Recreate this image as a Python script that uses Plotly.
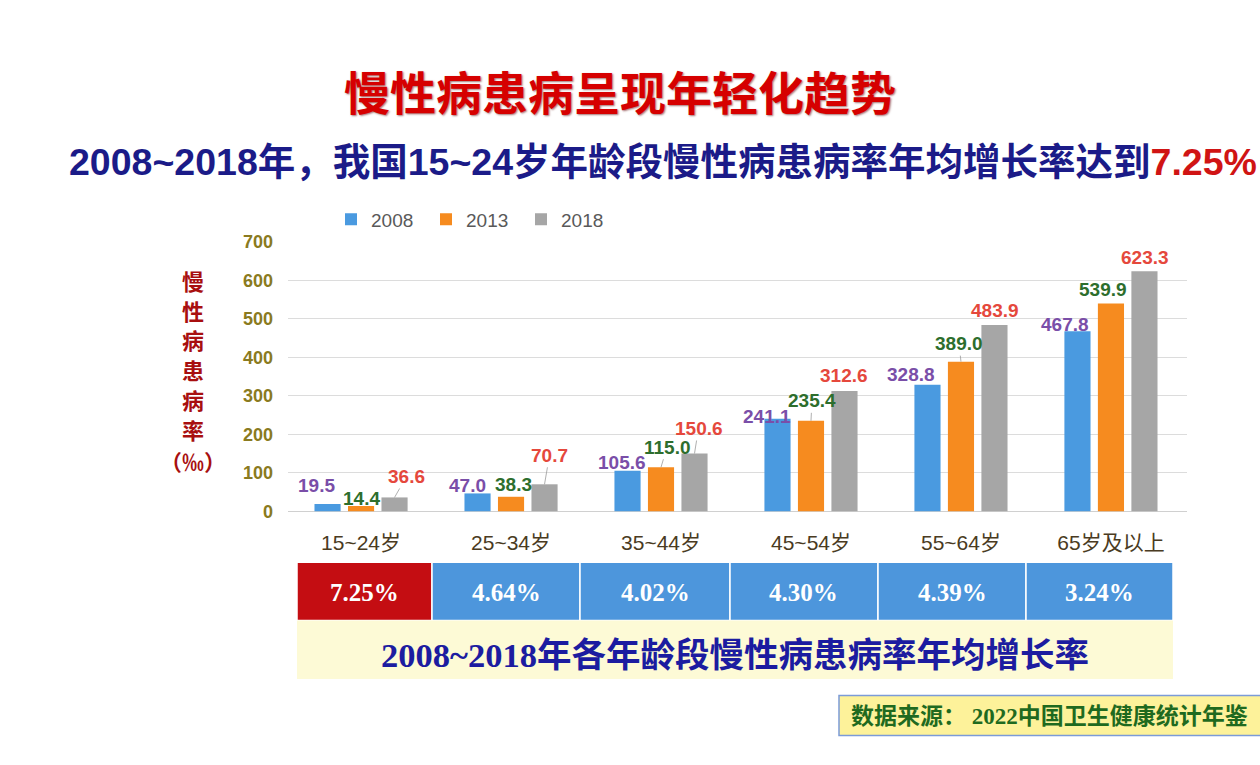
import plotly.graph_objects as go

# ---------------- data ----------------
categories = ["15~24岁", "25~34岁", "35~44岁", "45~54岁", "55~64岁", "65岁及以上"]
years = ["2008", "2013", "2018"]
rate_2008 = [19.5, 47.0, 105.6, 241.1, 328.8, 467.8]
rate_2013 = [14.4, 38.3, 115.0, 235.4, 389.0, 539.9]
rate_2018 = [36.6, 70.7, 150.6, 312.6, 483.9, 623.3]
growth_rates = ["7.25%", "4.64%", "4.02%", "4.30%", "4.39%", "3.24%"]
y_ticks = [0, 100, 200, 300, 400, 500, 600, 700]

title_text = "慢性病患病呈现年轻化趋势"
subtitle_text = "2008~2018年，我国15~24岁年龄段慢性病患病率年均增长率达到"
subtitle_highlight = "7.25%"
y_title_chars = ["慢", "性", "病", "患", "病", "率", "（‰）"]
table_title = "2008~2018年各年龄段慢性病患病率年均增长率"
source_text = "数据来源： 2022中国卫生健康统计年鉴"

# ---------------- style ----------------
W, H = 1260, 765
SANS = "Liberation Sans, Noto Sans CJK SC, sans-serif"
SERIF = "Liberation Serif, Noto Sans CJK SC, serif"
bar_colors = ["#4a9ae0", "#f68b1f", "#a6a6a6"]
label_colors = ["#7a4ea8", "#2d6e2d", "#e5483c"]


def px(x):
    return x / W


def py(y):
    return 1 - y / H


# label offsets in pixels (dx, dy, leader line)
label_offsets = [
    [(-11, -19, False), (-10, -8, False), (-6, -8, False), (-11, -2, False), (-16, -10, False), (-12, -7, False)],
    [(0, -7, False), (2, -12, False), (6, -20, True), (1, -20, True), (-2, -18, True), (-8, -14, False)],
    [(12, -21, True), (5, -29, True), (4, -25, True), (0, -16, False), (1, -15, False), (1, -14, False)],
]

x_idx = list(range(len(categories)))
series = [rate_2008, rate_2013, rate_2018]

fig = go.Figure()
for k, (yr, vals) in enumerate(zip(years, series)):
    fig.add_trace(go.Bar(
        x=x_idx, y=vals, name=yr,
        marker=dict(color=bar_colors[k], line=dict(width=0)),
        hoverinfo="skip",
    ))

bargap = 0.33
slot = (1 - bargap) / 3

annotations = []
for k, vals in enumerate(series):
    for i, v in enumerate(vals):
        dx, dy, leader = label_offsets[k][i]
        annotations.append(dict(
            x=i + (k - 1) * slot, y=v, xref="x", yref="y",
            text=f"<b>{v:.1f}</b>", showarrow=True,
            ax=dx, ay=dy, axref="pixel", ayref="pixel",
            arrowhead=0, arrowwidth=0.8, standoff=0, startstandoff=0,
            arrowcolor="#9a9a9a" if leader else "rgba(0,0,0,0)",
            font=dict(family=SANS, size=19, color=label_colors[k]),
        ))

# title and subtitle
annotations.append(dict(
    x=px(620), y=py(82), xref="paper", yref="paper", showarrow=False,
    text=f"<b>{title_text}</b>", xanchor="center", yanchor="middle",
    font=dict(family="Noto Sans CJK SC", size=46, color="#d60000",
              shadow="1px 1px 2px rgba(90,0,0,0.55)"),
))
annotations.append(dict(
    x=px(663), y=py(156), xref="paper", yref="paper", showarrow=False,
    text=f"<b>{subtitle_text}<span style='color:#d01414'>{subtitle_highlight}</span></b>",
    xanchor="center", yanchor="middle",
    font=dict(family=SANS, size=37.5, color="#1b1b88"),
))

# y axis title (vertical characters)
for k, ch in enumerate(y_title_chars):
    yy = 277 + 30.6 * k if k < len(y_title_chars) - 1 else 277 + 30.6 * (k - 1) + 32
    annotations.append(dict(
        x=px(193), y=py(yy), xref="paper", yref="paper", showarrow=False,
        text=f"<b>{ch}</b>", xanchor="center", yanchor="middle",
        font=dict(family="Noto Sans CJK SC", size=22, color="#a80f0f"),
    ))

shapes = []
# growth-rate table row
cell_edges = [297, 432, 580, 730, 878, 1026, 1173]
row_top, row_bot = 567, 627
max_idx = max(range(len(growth_rates)), key=lambda j: float(growth_rates[j].rstrip("%")))
for j, g in enumerate(growth_rates):
    shapes.append(dict(
        type="rect", xref="paper", yref="paper",
        x0=px(cell_edges[j]), x1=px(cell_edges[j + 1]), y0=py(row_bot), y1=py(row_top),
        fillcolor="#c40d12" if j == max_idx else "#4d96dc",
        line=dict(color="white", width=1.5), layer="below",
    ))
    annotations.append(dict(
        x=px((cell_edges[j] + cell_edges[j + 1]) / 2), y=py(598), xref="paper", yref="paper",
        showarrow=False, text=f"<b>{g}</b>", xanchor="center", yanchor="middle",
        font=dict(family=SERIF, size=25, color="white"),
    ))

# yellow table title band
shapes.append(dict(
    type="rect", xref="paper", yref="paper",
    x0=px(297), x1=px(1173), y0=py(687), y1=py(627),
    fillcolor="#fdfad6", line=dict(width=0), layer="below",
))
annotations.append(dict(
    x=px(735), y=py(662), xref="paper", yref="paper", showarrow=False,
    text=f"<b>{table_title}</b>", xanchor="center", yanchor="middle",
    font=dict(family=SERIF, size=34.5, color="#1c1ca0"),
))

# source box
shapes.append(dict(
    type="rect", xref="paper", yref="paper",
    x0=px(839), x1=px(1262), y0=py(745), y1=py(704),
    fillcolor="#fdf29a", line=dict(color="#7b9bd8", width=1.5), layer="below",
))
annotations.append(dict(
    x=px(1049), y=py(725), xref="paper", yref="paper", showarrow=False,
    text=f"<b>{source_text}</b>", xanchor="center", yanchor="middle",
    font=dict(family=SERIF, size=23, color="#1f6a1f"),
))

fig.update_layout(
    width=W, height=H,
    margin=dict(l=0, r=0, t=0, b=0),
    paper_bgcolor="white", plot_bgcolor="white",
    barmode="group", bargap=bargap, bargroupgap=0.22,
    showlegend=True,
    legend=dict(
        orientation="h", x=px(331), xanchor="left", y=py(215), yanchor="middle",
        font=dict(family=SANS, size=19, color="#595959"),
        entrywidth=50, entrywidthmode="pixels",
        bgcolor="rgba(0,0,0,0)", itemclick=False, itemdoubleclick=False,
    ),
    xaxis=dict(
        domain=[px(288), px(1187)], range=[-0.487, 5.507],
        tickmode="array", tickvals=x_idx, ticktext=categories,
        showgrid=False, zeroline=False, showline=False, ticks="",
        tickfont=dict(family=SANS, size=21, color="#4a3b22"),
        ticklabelstandoff=16, fixedrange=True,
    ),
    yaxis=dict(
        domain=[py(515), py(238)], range=[0, 700],
        tickmode="array", tickvals=y_ticks,
        showgrid=True, gridcolor="#dcdcdc", gridwidth=1,
        zeroline=True, zerolinecolor="#d0d0d0", zerolinewidth=1,
        showline=False, ticks="",
        tickfont=dict(family=SANS, size=18, color="#8a7a20", weight="bold"),
        ticklabelstandoff=14, fixedrange=True,
    ),
    annotations=annotations,
    shapes=shapes,
)

fig.write_html("out.html")
